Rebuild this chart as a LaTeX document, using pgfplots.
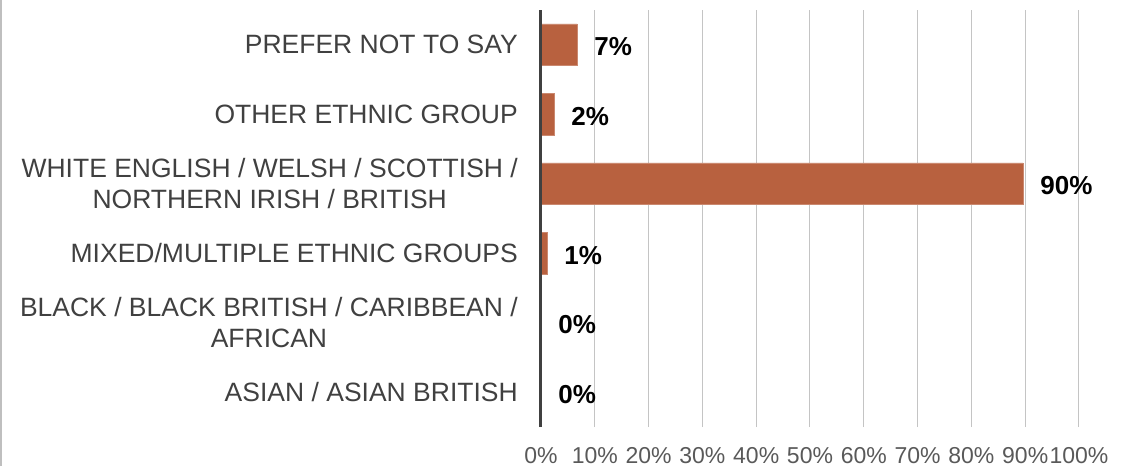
\documentclass[border=0pt]{standalone}
\usepackage{pgfplots}
\pgfplotsset{compat=1.18}
\usepackage{fontspec}
\setmainfont{Liberation Sans}
\definecolor{barc}{HTML}{B8613F}
\definecolor{gridc}{HTML}{C4C4C4}
\definecolor{labc}{HTML}{404040}
\definecolor{tickc}{HTML}{595959}
\begin{document}
\begin{tikzpicture}
\path[use as bounding box] (-541pt,-39pt) rectangle (591pt,427pt);
\draw[color=black!25, line width=2.5pt] (-539.75pt,-39pt) -- (-539.75pt,427pt);
\begin{axis}[
  at={(0pt,0pt)}, anchor=south west,
  scale only axis, width=538pt, height=417pt,
  xbar, bar width=0.6,
  xmin=0, xmax=100, ymin=-0.5, ymax=5.5,
  xtick={0,10,...,100},
  xticklabels={0\%,10\%,20\%,30\%,40\%,50\%,60\%,70\%,80\%,90\%,100\%},
  ytick={0,1,2,3,4,5},
  yticklabels={{ASIAN / ASIAN BRITISH},
               {BLACK / BLACK BRITISH / CARIBBEAN /\\AFRICAN},
               {MIXED/MULTIPLE ETHNIC GROUPS},
               {WHITE ENGLISH / WELSH / SCOTTISH /\\NORTHERN IRISH / BRITISH},
               {OTHER ETHNIC GROUP},
               {PREFER NOT TO SAY}},
  major tick length=0pt,
  xmajorgrids, grid style={gridc, line width=1pt},
  axis line style={draw=none},
  xticklabel style={font=\fontsize{23}{28}\selectfont, text=tickc, inner sep=0pt, yshift=-20pt},
  yticklabel style={align=center, font=\fontsize{26.5}{31}\selectfont, text=labc, inner sep=0pt, xshift=-23pt},
  point meta=x,
  nodes near coords={\pgfmathprintnumber[fixed,precision=0,assume math mode=true]{\pgfplotspointmeta}\%},
  nodes near coords style={font=\bfseries\fontsize{26}{31}\selectfont, text=black, anchor=west, inner sep=0pt, xshift=17pt, yshift=-2pt},
  clip=false,
]
\addplot[fill=barc, draw=barc!75!white, line width=0.8pt] coordinates {
  (0,0) (0,1) (1.1,2) (89.6,3) (2.4,4) (6.7,5)
};
\draw[labc, line width=3pt] (axis cs:0,-0.5) -- (axis cs:0,5.5);
\end{axis}
\end{tikzpicture}
\end{document}
